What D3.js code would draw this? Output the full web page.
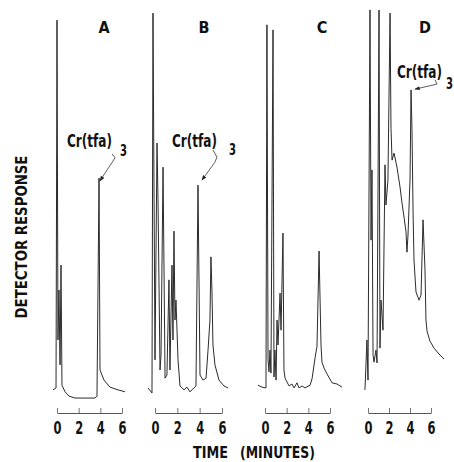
<!DOCTYPE html>
<html>
<head>
<meta charset="utf-8">
<style>
  body { margin: 0; background: #fff; }
  svg { display: block; }
  text {
    font-family: "Liberation Sans Narrow", "DejaVu Sans Condensed", sans-serif;
    font-weight: bold;
    fill: #111;
  }
  .trace { fill: none; stroke: #2b2b2b; stroke-width: 1; stroke-linejoin: round; }
  .axis .domain { stroke: #555; }
  .axis .tick line { stroke: #777; }
  .leader { fill: none; stroke: #333; stroke-width: 0.8; }
</style>
</head>
<body>
<svg width="454" height="462"></svg>
<script src="https://d3js.org/d3.v7.min.js"></script>
<script>
  // panel names and the minute ticks under each trace
  let panels = ["A", "B", "C", "D"];
  let tickValues = [0, 2, 4, 6];
  let compound = "Cr(tfa)";

  // traces: [time (min), detector response (% of full scale)]
  let traceA = [[-0.37, 2.6], [-0.09, 3.1], [0.0, 97.4], [0.09, 15.4], [0.18, 28.2], [0.28, 9.0],
    [0.37, 34.6], [0.46, 3.8], [0.74, 2.1], [1.11, 1.0], [1.66, 0.5], [3.51, 0.5], [3.69, 1.0],
    [3.88, 56.9], [3.97, 7.7], [4.34, 5.1], [4.89, 3.3], [5.63, 2.6], [6.28, 2.1]];

  let traceB = [[-0.63, 3.1], [-0.27, 1.8], [-0.18, 99.2], [0.0, 10.3], [0.18, 65.9], [0.27, 51.3],
    [0.45, 7.7], [0.54, 11.5], [0.72, 59.7], [0.9, 5.6], [1.07, 6.4], [1.25, 30.8], [1.34, 7.7],
    [1.52, 34.6], [1.61, 15.4], [1.7, 43.3], [1.79, 20.5], [1.88, 25.6], [2.06, 10.3], [2.24, 3.6],
    [2.6, 2.6], [2.86, 3.3], [3.13, 2.1], [3.49, 3.1], [3.67, 3.6], [3.85, 55.1], [4.03, 6.4],
    [4.3, 5.1], [4.57, 5.6], [4.75, 12.8], [4.92, 20.5], [5.01, 36.7], [5.1, 28.2], [5.19, 14.1],
    [5.37, 9.0], [5.73, 5.1], [6.18, 3.6], [6.54, 3.1]];

  let traceC = [[-0.65, 3.8], [-0.28, 3.3], [0.09, 3.1], [0.18, 96.2], [0.28, 10.3], [0.37, 7.2],
    [0.46, 12.8], [0.55, 6.9], [0.74, 94.9], [0.83, 5.9], [0.92, 12.8], [1.02, 5.1], [1.11, 20.5],
    [1.2, 14.1], [1.39, 27.4], [1.48, 17.9], [1.66, 42.8], [1.75, 7.7], [1.85, 5.6], [2.22, 3.6],
    [2.49, 4.1], [2.68, 3.1], [2.95, 4.4], [3.14, 3.1], [3.42, 3.6], [3.69, 3.1], [4.16, 3.8],
    [4.34, 5.4], [4.62, 10.8], [4.8, 13.8], [4.99, 38.2], [5.17, 14.1], [5.26, 9.7], [5.45, 8.2],
    [5.72, 6.7], [6.19, 4.4], [6.65, 4.1], [7.11, 3.3]];

  let traceD = [[-0.29, 2.6], [-0.1, 15.4], [0.0, 5.1], [0.19, 100], [0.29, 41.0], [0.38, 59.0],
    [0.48, 11.5], [0.57, 9.7], [0.76, 12.8], [0.86, 9.5], [1.05, 100], [1.14, 13.3], [1.24, 25.6],
    [1.43, 17.9], [1.62, 60.3], [1.71, 50.0], [1.9, 56.4], [2.1, 99.2], [2.19, 69.7], [2.29, 61.5],
    [2.48, 63.3], [2.76, 59.7], [3.05, 54.6], [3.24, 50.5], [3.43, 46.9], [3.62, 43.1], [3.71, 37.9],
    [3.81, 42.3], [4.0, 56.4], [4.1, 79.5], [4.19, 69.2], [4.29, 48.7], [4.38, 35.9], [4.57, 27.7],
    [4.86, 25.6], [5.05, 26.9], [5.24, 46.2], [5.43, 33.3], [5.52, 20.5], [5.62, 17.7], [5.9, 15.1],
    [6.29, 13.3], [6.76, 11.8], [7.24, 10.5]];

  let traces = [traceA, traceB, traceC, traceD];

  // Cr(tfa)3 labels (A, B, D): text anchor, subscript anchor, leader points, all in [time, response]
  let labelPanels = [0, 1, 3];
  let labelText = [[0.92, 64.9], [1.52, 64.9], [2.76, 82.6]];
  let labelSub = [[5.82, 62.6], [6.63, 62.8], [7.42, 79.8]];
  let leaders = [
    [[5.08, 63.1], [5.36, 62.1], [3.97, 56.2]],
    [[5.19, 64.1], [5.55, 62.3], [5.37, 61.0], [4.21, 56.4]],
    [[6.38, 82.1], [6.57, 81.0], [4.48, 79.7]]
  ];

  let svg = d3.select("svg");

  // each panel gets its own time axis, all share the response scale
  let xRanges = [[57, 122], [155, 222], [265, 330], [368, 431]];
  let titleX = [104, 204, 322, 425];
  let axisY = 413;

  let y = d3.scaleLinear().domain([0, 100]).range([400, 10]);
  let xs = xRanges.map(r => d3.scaleLinear().domain([0, 6]).range(r));

  // the scan's lettering is very narrow: squeeze a text to a given width
  function squeeze(t, x, yy, w, rot) {
    let n = t.node().getComputedTextLength();
    t.attr("transform", `translate(${x},${yy})${rot ? " rotate(-90)" : ""} scale(${w / n},1)`);
    return t;
  }

  svg.append("defs").append("marker")
    .attr("id", "arrow")
    .attr("viewBox", "0 0 8 6")
    .attr("refX", 7).attr("refY", 3)
    .attr("markerWidth", 7).attr("markerHeight", 5)
    .attr("orient", "auto")
    .append("path")
    .attr("d", "M0,0 L8,3 L0,6 Z")
    .attr("fill", "#222");

  panels.forEach((p, i) => {
    let x = xs[i];

    let line = d3.line()
      .x(d => x(d[0]))
      .y(d => y(d[1]));

    svg.append("path")
      .datum(traces[i])
      .attr("class", "trace")
      .attr("d", line);

    let axis = d3.axisBottom(x)
      .tickValues(tickValues)
      .tickSize(-5)
      .tickSizeOuter(0)
      .tickPadding(9)
      .tickFormat(d3.format("d"));

    let g = svg.append("g")
      .attr("class", "axis")
      .attr("transform", `translate(0,${axisY})`)
      .call(axis);

    g.selectAll(".tick text")
      .attr("font-size", 17)
      .attr("fill", "#111")
      .each(function () {
        let t = d3.select(this);
        let n = this.getComputedTextLength();
        t.attr("transform", `scale(${8 / n},1)`);
      });

    svg.append("text")
      .attr("x", titleX[i])
      .attr("y", 33)
      .attr("text-anchor", "middle")
      .attr("font-size", 16)
      .text(p);
  });

  labelPanels.forEach((pi, k) => {
    let x = xs[pi];
    let t = svg.append("text")
      .attr("font-size", 18)
      .text(compound);
    squeeze(t, x(labelText[k][0]), y(labelText[k][1]), 45);

    let s = svg.append("text")
      .attr("font-size", 16)
      .text("3");
    squeeze(s, x(labelSub[k][0]), y(labelSub[k][1]), 7);

    svg.append("path")
      .attr("class", "leader")
      .attr("d", d3.line().x(d => x(d[0])).y(d => y(d[1]))(leaders[k]))
      .attr("marker-end", "url(#arrow)");
  });

  // axis titles
  let yTitle = svg.append("text")
    .attr("text-anchor", "middle")
    .attr("font-size", 16)
    .text("DETECTOR RESPONSE");
  squeeze(yTitle, 27, 237, 163, true);

  squeeze(svg.append("text").attr("font-size", 16).text("TIME"), 193, 458, 35);
  squeeze(svg.append("text").attr("font-size", 16).text("(MINUTES)"), 240, 458, 75);
</script>
</body>
</html>
